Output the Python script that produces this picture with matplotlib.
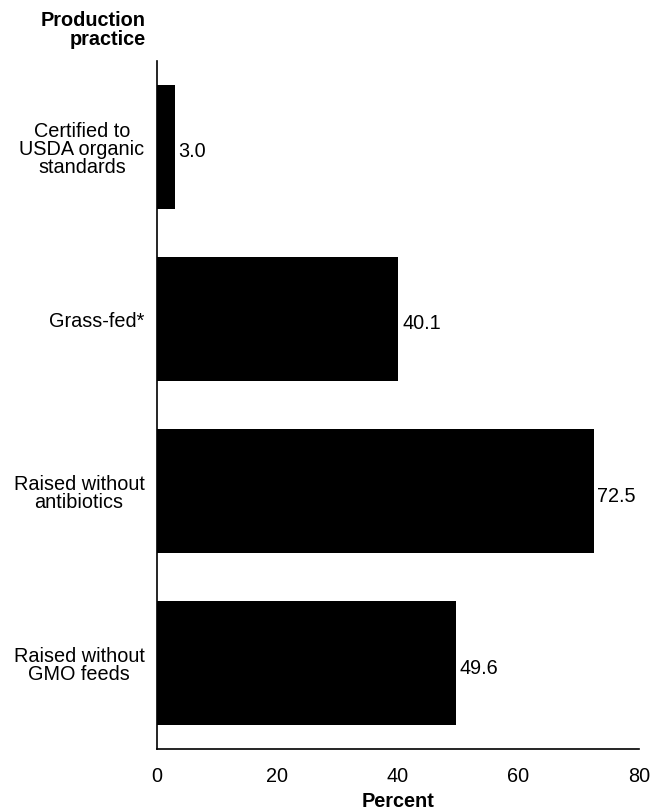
import matplotlib.pyplot as plt
import matplotlib.transforms as mtransforms

plt.rcParams['font.family'] = ['Liberation Sans', 'DejaVu Sans']

practices = ['Certified to\nUSDA organic\nstandards', 'Grass-fed*',
             'Raised without\nantibiotics', 'Raised without\nGMO feeds']
percent = [3.0, 40.1, 72.5, 49.6]
xticks = [0, 20, 40, 60, 80]

fs = 14.3
fig = plt.figure(figsize=(6.62, 8.12), dpi=100)
ax = fig.add_axes([0.237, 0.076, 0.728, 0.848])

# text in the original sits a few pixels below the bar centres
shift = mtransforms.ScaledTranslation(0, -4 / 100, fig.dpi_scale_trans)

pos = list(range(len(practices)))
ax.barh(pos, percent, height=0.72, color='black')
for p, v in zip(pos, percent):
    ax.text(v + 0.6, p, '{:.1f}'.format(v), va='center', ha='left', fontsize=fs,
            transform=ax.transData + shift)

ax.set_ylim(3.5, -0.5)
ax.set_xlim(0, 80)
ax.set_yticks(pos)
ax.set_yticklabels(practices, fontsize=fs, linespacing=0.95, multialignment='center')
for lab in ax.get_yticklabels():
    lab.set_transform(lab.get_transform() + shift)
ax.set_xticks(xticks)
ax.set_xticklabels([str(t) for t in xticks], fontsize=fs)
ax.tick_params(axis='y', length=0, pad=9)
ax.tick_params(axis='x', length=0, pad=12)

for s in ['top', 'right']:
    ax.spines[s].set_visible(False)
ax.spines['left'].set_linewidth(1.2)
ax.spines['bottom'].set_linewidth(1.2)

ax.set_xlabel('Percent', fontsize=fs, fontweight='bold', labelpad=4)
fig.text(146 / 662, 1 - 30 / 812, 'Production\npractice', ha='right', va='center',
         fontsize=fs, fontweight='bold', linespacing=0.95, multialignment='right')

plt.savefig('out.png', dpi=100)
